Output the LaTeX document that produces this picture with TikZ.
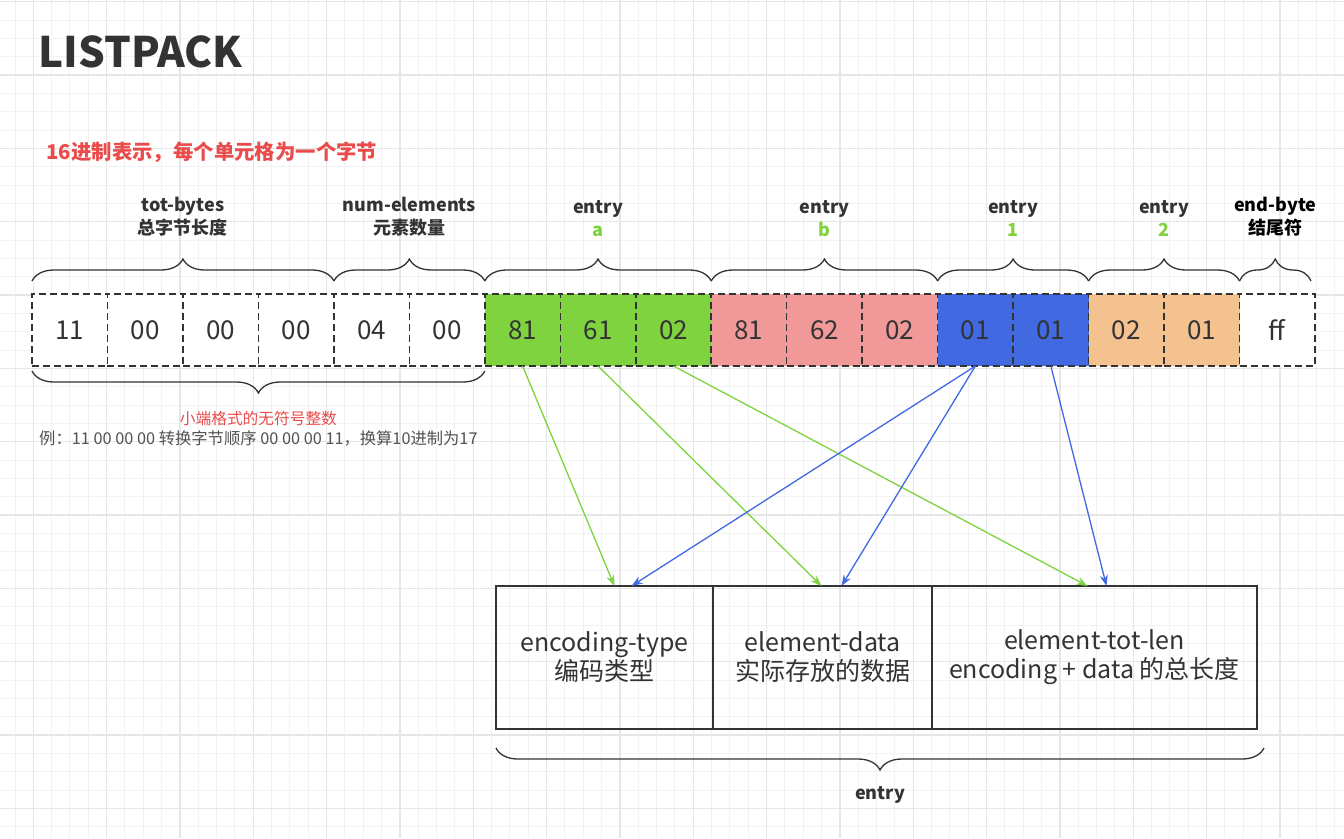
\documentclass[tikz,border=0pt]{standalone}
\usepackage{fontspec}
\setmainfont{Noto Sans CJK SC}
\usepackage{tikz}
\usetikzlibrary{arrows.meta, positioning, calc, decorations.pathreplacing}
\usepackage{xcolor}
\definecolor{ByteGreen}{RGB}{126,211,63}
\definecolor{BytePink}{RGB}{241,153,153}
\definecolor{ByteBlue}{RGB}{65,105,225}
\definecolor{ByteOrange}{RGB}{244,194,143}
\definecolor{InkGray}{RGB}{51,51,51}
\definecolor{NoteRed}{RGB}{234,75,75}
\definecolor{GridMinor}{RGB}{242,242,242}
\definecolor{GridMajor}{RGB}{230,230,230}

\tikzset{
  bytecell/.style={draw=InkGray, line width=1.5pt, dash pattern=on 7pt off 4pt, minimum width=75.47pt, minimum height=72pt, inner sep=0pt, outer sep=0pt, text=InkGray, font=\fontsize{26}{30}\selectfont},
  fieldbox/.style={draw=InkGray, line width=1.5pt, minimum height=143pt, inner sep=0pt, outer sep=0pt, align=center, text=InkGray, font=\fontsize{25}{29}\selectfont},
  fieldlabel/.style={align=center, text=InkGray, font=\fontsize{18}{23}\selectfont\bfseries, inner sep=0pt},
  bracket/.style={decorate, decoration={brace, amplitude=22pt}, draw=InkGray, line width=1.3pt},
  link/.style={-{Stealth[length=11pt, width=8pt]}, line width=1.3pt},
  gridminor/.style={draw=GridMinor, line width=1pt},
  gridmajor/.style={draw=GridMajor, line width=1.2pt},
}

\begin{document}
\begin{tikzpicture}[x=1pt, y=-1pt]
    \useasboundingbox (0,0) rectangle (1344,838);
    \fill[white] (0,0) rectangle (1344,838);

    % background grid
    \foreach \k in {0,...,72} \draw[gridminor] ({15+18.333*\k},0) -- ({15+18.333*\k},838);
    \foreach \k in {0,...,45} \draw[gridminor] (0,{1.7+18.333*\k}) -- (1344,{1.7+18.333*\k});
    \foreach \k in {0,...,17} \draw[gridmajor] ({33.3+73.333*\k},0) -- ({33.3+73.333*\k},838);
    \foreach \k in {0,...,11} \draw[gridmajor] (0,{1.7+73.333*\k}) -- (1344,{1.7+73.333*\k});

    \node[anchor=west, text=InkGray, font=\fontsize{42}{48}\selectfont\bfseries] (title) at (35,52) {LISTPACK};
    \node[anchor=west, text=NoteRed, font=\fontsize{20.4}{24}\selectfont\bfseries] (hexnote) at (43,152) {16进制表示，每个单元格为一个字节};

    % one cell per byte
    \foreach \v/\col [count=\i from 0] in {11/white, 00/white, 00/white, 00/white, 04/white, 00/white, 81/ByteGreen, 61/ByteGreen, 02/ByteGreen, 81/BytePink, 62/BytePink, 02/BytePink, 01/ByteBlue, 01/ByteBlue, 02/ByteOrange, 01/ByteOrange, ff/white}
      \node[bytecell, fill=\col] (c\i) at ({69.74+75.47*\i},330) {\v};

    % braces over the fields
    \draw[bracket] ([yshift=13pt]c0.north west) -- ([yshift=13pt]c3.north east) node[fieldlabel, midway, above=44pt] (lbltot) {tot-bytes\\总字节长度};
    \draw[bracket] ([yshift=13pt]c4.north west) -- ([yshift=13pt]c5.north east) node[fieldlabel, midway, above=44pt] (lblnum) {num-elements\\元素数量};
    \draw[bracket] ([yshift=13pt]c6.north west) -- ([yshift=13pt]c8.north east) node[fieldlabel, midway, above=44pt] (lbla) {entry\\\textcolor{ByteGreen}{a}};
    \draw[bracket] ([yshift=13pt]c9.north west) -- ([yshift=13pt]c11.north east) node[fieldlabel, midway, above=44pt] (lblb) {entry\\\textcolor{ByteGreen}{b}};
    \draw[bracket] ([yshift=13pt]c12.north west) -- ([yshift=13pt]c13.north east) node[fieldlabel, midway, above=44pt] (lblone) {entry\\\textcolor{ByteGreen}{1}};
    \draw[bracket] ([yshift=13pt]c14.north west) -- ([yshift=13pt]c15.north east) node[fieldlabel, midway, above=44pt] (lbltwo) {entry\\\textcolor{ByteGreen}{2}};
    \draw[bracket] ([yshift=13pt]c16.north west) -- ([shift={(-4pt,13pt)}]c16.north east) node[fieldlabel, midway, above=44pt, text=black] (lblend) {end-byte\\结尾符};

    \draw[bracket] ([yshift=-5pt]c5.south east) -- ([yshift=-5pt]c0.south west) node[midway, below=40pt, inner sep=0pt, text=NoteRed, font=\fontsize{15.7}{18}\selectfont] (endian) {小端格式的无符号整数};
    \node[below=4pt of endian, inner sep=0pt, text=InkGray!85, font=\fontsize{16.3}{19}\selectfont] (example) {例：11 00 00 00 转换字节顺序 00 00 00 11，换算10进制为17};

    % the parts of one entry
    \node[fieldbox, minimum width=217pt] (enctype) at (604.5,657.5) {encoding-type\\编码类型};
    \node[fieldbox, minimum width=219pt, right=0pt of enctype] (elemdata) {element-data\\实际存放的数据};
    \node[fieldbox, minimum width=325pt, right=0pt of elemdata] (totlen) {element-tot-len\\encoding + data 的总长度};
    \draw[bracket] ([shift={(7pt,-19pt)}]totlen.south east) -- ([yshift=-19pt]enctype.south west) node[fieldlabel, midway, below=38pt] (lblentry) {entry};

    \draw[link, ByteGreen] (c6.south) -- ([xshift=10pt]enctype.north);
    \draw[link, ByteGreen] (c7.south) -- ([xshift=-1pt]elemdata.north);
    \draw[link, ByteGreen] (c8.south) -- ([xshift=-7pt]totlen.north);
    \draw[link, ByteBlue] (c12.south) -- ([xshift=27pt]enctype.north);
    \draw[link, ByteBlue] (c12.south) -- ([xshift=19pt]elemdata.north);
    \draw[link, ByteBlue] (c13.south) -- ([xshift=12pt]totlen.north);
\end{tikzpicture}
\end{document}
